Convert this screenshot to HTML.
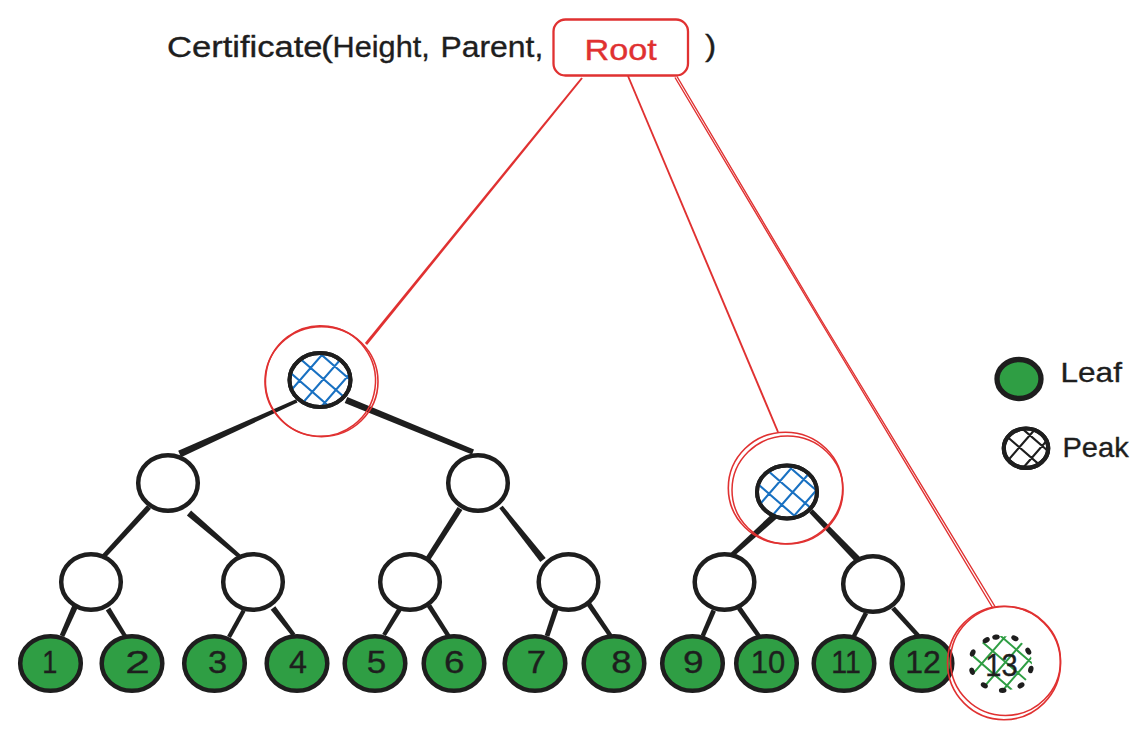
<!DOCTYPE html>
<html><head><meta charset="utf-8"><style>html,body{margin:0;padding:0;background:#fff;width:1148px;height:736px;overflow:hidden}svg{display:block}</style></head>
<body><svg width="1148" height="736" viewBox="0 0 1148 736">
<rect width="1148" height="736" fill="#ffffff"/>
<polygon fill="#e03131" points="581.2,77.4 364.9,343.1 367.1,344.9 582.8,78.6"/>
<line x1="628" y1="76" x2="778" y2="432" stroke="#e03131" stroke-width="1.9"/>
<path d="M675 77.5 L820.3 321 L992.5 607.5" fill="none" stroke="#e03131" stroke-width="1.4"/>
<path d="M677 76.5 L821.5 320.5 L995 606.5" fill="none" stroke="#e03131" stroke-width="1.4"/>
<polygon fill="#1e1e1e" points="296.1,399.2 178.2,450.8 181.0,457.2 297.5,402.4"/>
<polygon fill="#1e1e1e" points="344.7,403.1 472.0,454.5 474.0,449.5 347.3,396.9"/>
<polygon fill="#1e1e1e" points="147.0,505.2 102.2,554.4 105.8,557.6 151.0,508.8"/>
<polygon fill="#1e1e1e" points="186.9,515.4 237.6,557.6 240.4,554.4 191.1,510.6"/>
<polygon fill="#1e1e1e" points="457.6,506.9 425.8,557.2 430.2,560.0 462.4,510.1"/>
<polygon fill="#1e1e1e" points="499.3,508.3 540.3,562.1 545.7,557.9 502.7,505.7"/>
<polygon fill="#1e1e1e" points="73.9,601.8 59.8,635.0 64.2,637.0 79.3,604.2"/>
<polygon fill="#1e1e1e" points="105.8,610.4 123.2,637.1 126.8,634.9 110.2,607.6"/>
<polygon fill="#1e1e1e" points="241.8,609.5 227.1,636.0 230.9,638.0 245.6,611.5"/>
<polygon fill="#1e1e1e" points="270.7,609.8 292.0,636.3 295.4,633.7 275.3,606.2"/>
<polygon fill="#1e1e1e" points="397.7,607.8 382.2,633.9 385.8,636.1 401.9,610.2"/>
<polygon fill="#1e1e1e" points="427.0,606.9 446.7,637.2 450.3,634.8 431.0,604.3"/>
<polygon fill="#1e1e1e" points="553.5,608.2 544.7,635.2 549.3,636.8 558.5,609.8"/>
<polygon fill="#1e1e1e" points="586.8,605.4 608.9,637.2 612.5,634.8 590.8,602.6"/>
<polygon fill="#1e1e1e" points="776.7,509.5 730.8,552.7 734.0,556.3 781.3,514.5"/>
<polygon fill="#1e1e1e" points="809.3,512.7 856.4,563.0 861.2,558.2 812.7,509.3"/>
<polygon fill="#1e1e1e" points="711.5,609.5 700.7,635.1 704.7,636.9 715.9,611.5"/>
<polygon fill="#1e1e1e" points="737.0,609.4 757.0,637.2 760.6,634.8 741.0,606.6"/>
<polygon fill="#1e1e1e" points="863.9,611.9 850.8,637.5 854.6,639.5 868.1,614.1"/>
<polygon fill="#1e1e1e" points="891.2,609.6 916.9,637.4 920.1,634.6 894.8,606.4"/>
<ellipse cx="168" cy="483" rx="29.8" ry="27.8" fill="#ffffff" stroke="#1e1e1e" stroke-width="4.5" />
<ellipse cx="478" cy="483" rx="29.8" ry="27.8" fill="#ffffff" stroke="#1e1e1e" stroke-width="4.5" />
<ellipse cx="91" cy="582" rx="29.8" ry="27.8" fill="#ffffff" stroke="#1e1e1e" stroke-width="4.5" />
<ellipse cx="253" cy="582" rx="29.8" ry="27.8" fill="#ffffff" stroke="#1e1e1e" stroke-width="4.5" />
<ellipse cx="410" cy="582" rx="29.8" ry="27.8" fill="#ffffff" stroke="#1e1e1e" stroke-width="4.5" />
<ellipse cx="568.5" cy="582" rx="29.8" ry="27.8" fill="#ffffff" stroke="#1e1e1e" stroke-width="4.5" />
<ellipse cx="724.5" cy="582" rx="29.8" ry="27.8" fill="#ffffff" stroke="#1e1e1e" stroke-width="4.5" />
<ellipse cx="873" cy="584" rx="29.8" ry="27.8" fill="#ffffff" stroke="#1e1e1e" stroke-width="4.5" />
<ellipse cx="320" cy="380" rx="30.5" ry="27" fill="#ffffff" stroke="#1e1e1e" stroke-width="4" />
<clipPath id="h1"><ellipse cx="320" cy="380" rx="29.5" ry="26.5"/></clipPath>
<path clip-path="url(#h1)" d="M312.95 324.85L375.59 379.30M301.80 337.68L364.44 392.13M290.65 350.51L353.29 404.96M279.49 363.34L342.14 417.79M268.34 376.17L330.98 430.62M268.62 390.33L323.08 327.69M281.45 401.48L335.91 338.84M294.28 412.63L348.74 349.99M306.74 423.46L361.19 360.82M319.19 434.28L373.64 371.64" stroke="#1971c2" stroke-width="2.1" fill="none" stroke-linecap="round"/>
<ellipse cx="320" cy="380" rx="30.5" ry="27" fill="none" stroke="#1e1e1e" stroke-width="4" />
<ellipse cx="787" cy="492" rx="30" ry="26.5" fill="#ffffff" stroke="#1e1e1e" stroke-width="4" />
<clipPath id="h2"><ellipse cx="787" cy="492" rx="29" ry="26"/></clipPath>
<path clip-path="url(#h2)" d="M780.33 437.18L842.22 490.97M769.51 449.63L831.39 503.43M758.35 462.46L820.24 516.26M747.46 474.99L809.35 528.79M736.38 487.74L798.26 541.54M738.22 503.92L792.01 442.03M750.74 514.81L804.54 452.92M763.42 525.83L817.22 463.94M775.95 536.72L829.75 474.83M788.78 547.87L842.58 485.99" stroke="#1971c2" stroke-width="2.1" fill="none" stroke-linecap="round"/>
<ellipse cx="787" cy="492" rx="30" ry="26.5" fill="none" stroke="#1e1e1e" stroke-width="4" />
<ellipse cx="50.5" cy="663.5" rx="30.3" ry="27.3" fill="#2f9e44" stroke="#1e1e1e" stroke-width="4.5" />
<ellipse cx="132" cy="663.5" rx="30.3" ry="27.3" fill="#2f9e44" stroke="#1e1e1e" stroke-width="4.5" />
<ellipse cx="214.5" cy="663.5" rx="30.3" ry="27.3" fill="#2f9e44" stroke="#1e1e1e" stroke-width="4.5" />
<ellipse cx="297" cy="663.5" rx="30.3" ry="27.3" fill="#2f9e44" stroke="#1e1e1e" stroke-width="4.5" />
<ellipse cx="375" cy="663.5" rx="30.3" ry="27.3" fill="#2f9e44" stroke="#1e1e1e" stroke-width="4.5" />
<ellipse cx="454" cy="663.5" rx="30.3" ry="27.3" fill="#2f9e44" stroke="#1e1e1e" stroke-width="4.5" />
<ellipse cx="535" cy="663.5" rx="30.3" ry="27.3" fill="#2f9e44" stroke="#1e1e1e" stroke-width="4.5" />
<ellipse cx="614" cy="663.5" rx="30.3" ry="27.3" fill="#2f9e44" stroke="#1e1e1e" stroke-width="4.5" />
<ellipse cx="692.5" cy="663.5" rx="30.3" ry="27.3" fill="#2f9e44" stroke="#1e1e1e" stroke-width="4.5" />
<ellipse cx="766.5" cy="663.5" rx="30.3" ry="27.3" fill="#2f9e44" stroke="#1e1e1e" stroke-width="4.5" />
<ellipse cx="844" cy="663.5" rx="30.3" ry="27.3" fill="#2f9e44" stroke="#1e1e1e" stroke-width="4.5" />
<ellipse cx="922" cy="663.5" rx="30.3" ry="27.3" fill="#2f9e44" stroke="#1e1e1e" stroke-width="4.5" />
<clipPath id="h3"><ellipse cx="1002" cy="663.5" rx="30" ry="27.5"/></clipPath>
<path clip-path="url(#h3)" d="M993.92 608.78L1057.32 663.88M983.36 620.93L1046.75 676.04M972.47 633.45L1035.86 688.56M961.51 646.06L1024.91 701.17M950.62 658.59L1014.02 713.70M950.29 674.20L1005.40 610.81M962.97 685.23L1018.08 621.83M975.80 696.38L1030.91 632.98M988.18 707.14L1043.29 643.74M1000.86 718.16L1055.97 654.76" stroke="#2f9e44" stroke-width="2" fill="none" stroke-linecap="round"/>
<ellipse cx="986.2" cy="640.2" rx="3.8" ry="2.6" fill="#1e1e1e" transform="rotate(-29.1 986.2 640.2)"/>
<ellipse cx="996" cy="637.1" rx="3.8" ry="2.6" fill="#1e1e1e" transform="rotate(-10.6 996 637.1)"/>
<ellipse cx="1014.9" cy="638.3" rx="3.8" ry="2.6" fill="#1e1e1e" transform="rotate(22.8 1014.9 638.3)"/>
<ellipse cx="1028.3" cy="651.2" rx="3.8" ry="2.6" fill="#1e1e1e" transform="rotate(60.3 1028.3 651.2)"/>
<ellipse cx="1030.8" cy="669.5" rx="3.8" ry="2.6" fill="#1e1e1e" transform="rotate(104.2 1030.8 669.5)"/>
<ellipse cx="1021" cy="685.4" rx="3.8" ry="2.6" fill="#1e1e1e" transform="rotate(144.5 1021 685.4)"/>
<ellipse cx="1002.7" cy="690.3" rx="3.8" ry="2.6" fill="#1e1e1e" transform="rotate(178.8 1002.7 690.3)"/>
<ellipse cx="984.3" cy="685.4" rx="3.8" ry="2.6" fill="#1e1e1e" transform="rotate(213.6 984.3 685.4)"/>
<ellipse cx="972.1" cy="671.3" rx="3.8" ry="2.6" fill="#1e1e1e" transform="rotate(252.4 972.1 671.3)"/>
<ellipse cx="972.7" cy="653" rx="3.8" ry="2.6" fill="#1e1e1e" transform="rotate(-66.4 972.7 653)"/>
<ellipse cx="321.5" cy="381.6" rx="56.5" ry="55" fill="none" stroke="#e03131" stroke-width="1.6" />
<ellipse cx="320.5" cy="381" rx="55" ry="55.3" fill="none" stroke="#e03131" stroke-width="1.5" transform="rotate(8 320.5 381)"/>
<ellipse cx="785.5" cy="488" rx="57.2" ry="55.8" fill="none" stroke="#e03131" stroke-width="1.6" />
<ellipse cx="787.5" cy="490" rx="55.5" ry="54" fill="none" stroke="#e03131" stroke-width="1.5" />
<ellipse cx="1004" cy="663" rx="56.5" ry="56.7" fill="none" stroke="#e03131" stroke-width="1.6" />
<ellipse cx="1005.5" cy="661" rx="55" ry="54.5" fill="none" stroke="#e03131" stroke-width="1.6" />
<rect x="553.5" y="19.5" width="134.5" height="56" rx="12" fill="none" stroke="#e03131" stroke-width="2.3"/>
<ellipse cx="1019" cy="379" rx="22" ry="19.5" fill="#2f9e44" stroke="#1e1e1e" stroke-width="5.3" />
<ellipse cx="1026" cy="448.2" rx="22.2" ry="19.7" fill="#ffffff" stroke="#1e1e1e" stroke-width="4.2" />
<clipPath id="h4"><ellipse cx="1026" cy="448.2" rx="21" ry="18.5"/></clipPath>
<path clip-path="url(#h4)" d="M1019.66 405.19L1069.47 448.49M1009.16 417.27L1058.97 460.57M998.67 429.34L1048.48 472.64M988.17 441.42L1037.98 484.72M987.82 458.74L1031.12 408.93M1000.12 469.43L1043.42 419.62M1012.43 480.13L1055.73 430.31M1024.73 490.82L1068.03 441.01" stroke="#1e1e1e" stroke-width="2.2" fill="none" stroke-linecap="round"/>
<ellipse cx="1026" cy="448.2" rx="22.2" ry="19.7" fill="none" stroke="#1e1e1e" stroke-width="4.2" />
<text x="167" y="57" font-family="'Liberation Sans', sans-serif" font-size="29" fill="#1e1e1e" stroke="#1e1e1e" stroke-width="0.35" text-anchor="start" textLength="155.6" lengthAdjust="spacingAndGlyphs">Certificate</text>
<text x="321" y="57" font-family="'Liberation Sans', sans-serif" font-size="29" fill="#1e1e1e" stroke="#1e1e1e" stroke-width="0.35" text-anchor="start" textLength="12" lengthAdjust="spacingAndGlyphs">(</text>
<text x="332.6" y="57" font-family="'Liberation Sans', sans-serif" font-size="29" fill="#1e1e1e" stroke="#1e1e1e" stroke-width="0.35" text-anchor="start" textLength="97.2" lengthAdjust="spacingAndGlyphs">Height,</text>
<text x="440.5" y="57" font-family="'Liberation Sans', sans-serif" font-size="29" fill="#1e1e1e" stroke="#1e1e1e" stroke-width="0.35" text-anchor="start" textLength="102.8" lengthAdjust="spacingAndGlyphs">Parent,</text>
<text x="705" y="55.5" font-family="'Liberation Sans', sans-serif" font-size="29" fill="#1e1e1e" stroke="#1e1e1e" stroke-width="0.35" text-anchor="start" textLength="11.2" lengthAdjust="spacingAndGlyphs">)</text>
<text x="584.5" y="60" font-family="'Liberation Sans', sans-serif" font-size="29" fill="#e03131" stroke="#e03131" stroke-width="0.35" text-anchor="start" textLength="72.4" lengthAdjust="spacingAndGlyphs">Root</text>
<text x="1060.5" y="382" font-family="'Liberation Sans', sans-serif" font-size="28" fill="#1e1e1e" stroke="#1e1e1e" stroke-width="0.35" text-anchor="start" textLength="61.4" lengthAdjust="spacingAndGlyphs">Leaf</text>
<text x="1062.5" y="457" font-family="'Liberation Sans', sans-serif" font-size="28" fill="#1e1e1e" stroke="#1e1e1e" stroke-width="0.35" text-anchor="start" textLength="66.2" lengthAdjust="spacingAndGlyphs">Peak</text>
<text x="49.7" y="673" font-family="'Liberation Sans', sans-serif" font-size="31" fill="#1e1e1e" stroke="#1e1e1e" stroke-width="0.35" text-anchor="middle" textLength="15.1" lengthAdjust="spacingAndGlyphs">1</text>
<text x="137.5" y="673" font-family="'Liberation Sans', sans-serif" font-size="31" fill="#1e1e1e" stroke="#1e1e1e" stroke-width="0.35" text-anchor="middle" textLength="24.6" lengthAdjust="spacingAndGlyphs">2</text>
<text x="217.7" y="673" font-family="'Liberation Sans', sans-serif" font-size="31" fill="#1e1e1e" stroke="#1e1e1e" stroke-width="0.35" text-anchor="middle" textLength="19.2" lengthAdjust="spacingAndGlyphs">3</text>
<text x="298" y="673" font-family="'Liberation Sans', sans-serif" font-size="31" fill="#1e1e1e" stroke="#1e1e1e" stroke-width="0.35" text-anchor="middle" textLength="18.0" lengthAdjust="spacingAndGlyphs">4</text>
<text x="376.6" y="673" font-family="'Liberation Sans', sans-serif" font-size="31" fill="#1e1e1e" stroke="#1e1e1e" stroke-width="0.35" text-anchor="middle" textLength="19.5" lengthAdjust="spacingAndGlyphs">5</text>
<text x="454.4" y="673" font-family="'Liberation Sans', sans-serif" font-size="31" fill="#1e1e1e" stroke="#1e1e1e" stroke-width="0.35" text-anchor="middle" textLength="20.6" lengthAdjust="spacingAndGlyphs">6</text>
<text x="536.5" y="673" font-family="'Liberation Sans', sans-serif" font-size="31" fill="#1e1e1e" stroke="#1e1e1e" stroke-width="0.35" text-anchor="middle" textLength="19.3" lengthAdjust="spacingAndGlyphs">7</text>
<text x="621.5" y="673" font-family="'Liberation Sans', sans-serif" font-size="31" fill="#1e1e1e" stroke="#1e1e1e" stroke-width="0.35" text-anchor="middle" textLength="20.3" lengthAdjust="spacingAndGlyphs">8</text>
<text x="693.4" y="673" font-family="'Liberation Sans', sans-serif" font-size="31" fill="#1e1e1e" stroke="#1e1e1e" stroke-width="0.35" text-anchor="middle" textLength="20.6" lengthAdjust="spacingAndGlyphs">9</text>
<text x="768" y="673" font-family="'Liberation Sans', sans-serif" font-size="31" fill="#1e1e1e" stroke="#1e1e1e" stroke-width="0.35" text-anchor="middle" textLength="34.5" lengthAdjust="spacingAndGlyphs">10</text>
<text x="846" y="673" font-family="'Liberation Sans', sans-serif" font-size="31" fill="#1e1e1e" stroke="#1e1e1e" stroke-width="0.35" text-anchor="middle" textLength="29.6" lengthAdjust="spacingAndGlyphs">11</text>
<text x="923" y="673" font-family="'Liberation Sans', sans-serif" font-size="31" fill="#1e1e1e" stroke="#1e1e1e" stroke-width="0.35" text-anchor="middle" textLength="35.6" lengthAdjust="spacingAndGlyphs">12</text>
<text x="1001.5" y="676" font-family="'Liberation Sans', sans-serif" font-size="31" fill="#1e1e1e" stroke="#1e1e1e" stroke-width="0.35" text-anchor="middle" textLength="32.3" lengthAdjust="spacingAndGlyphs">13</text>
</svg></body></html>
